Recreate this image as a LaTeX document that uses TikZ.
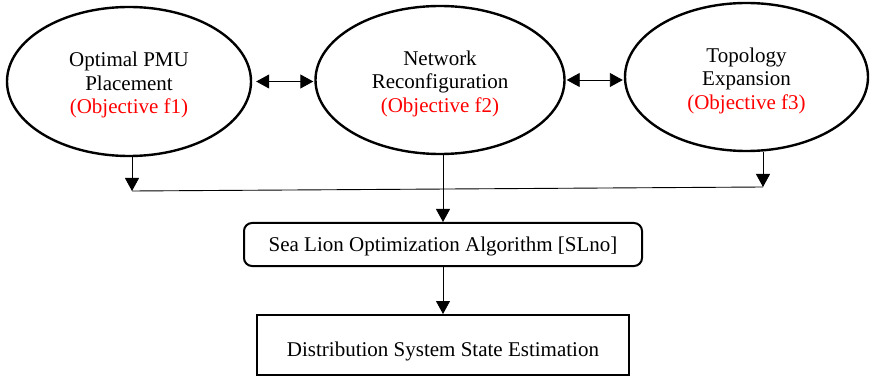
\documentclass[tikz,border=0pt]{standalone}
\usepackage{fontspec}
\setmainfont{Liberation Serif}
\usetikzlibrary{shapes.geometric,arrows.meta}
\newcommand{\lowered}[2]{\raisebox{-#1}[\height][\depth]{#2}}
\newcommand{\elltext}[1]{\lowered{4pt}{\begin{tabular}{@{}c@{}}#1\end{tabular}}}
\begin{document}
\begin{tikzpicture}[x=1pt,y=-1pt,
  txt/.style={font=\fontsize{21}{23.5}\selectfont},
  ell/.style={draw, line width=2.4pt, ellipse, inner sep=0pt, txt},
  conn/.style={line width=0.9pt, -{Triangle[length=13pt,width=14pt]}},
  dbl/.style={line width=0.9pt, {Triangle[length=13pt,width=14pt]}-{Triangle[length=13pt,width=14pt]}},
  rbox/.style={draw, line width=2pt, rounded corners=8pt, inner sep=0pt, txt},
  sbox/.style={draw, line width=2pt, inner sep=0pt, txt}]
\useasboundingbox (0,0) rectangle (870,382);
\node[ell, minimum width=244pt, minimum height=149pt] (e1) at (129,81.5)
  {\elltext{Optimal PMU\\Placement\\\textcolor{red}{(Objective f1)}}};
\node[ell, minimum width=249pt, minimum height=148pt] (e2) at (440,80)
  {\elltext{Network\\Reconfiguration\\\textcolor{red}{(Objective f2)}}};
\node[ell, minimum width=243pt, minimum height=148pt] (e3) at (746.5,77)
  {\elltext{Topology\\Expansion\\\textcolor{red}{(Objective f3)}}};
\node[rbox, minimum width=398pt, minimum height=43pt] (slno) at (443,244.5)
  {\lowered{2pt}{Sea Lion Optimization Algorithm [SLno]}};
\node[sbox, minimum width=372pt, minimum height=60pt] (dsse) at (443,345)
  {\lowered{6pt}{Distribution System State Estimation}};
\coordinate (j1) at (132,191);
\coordinate (j3) at (763,187);
\draw[dbl] ([xshift=4pt]e1.east) -- ([xshift=-1pt]e1.east -| e2.west);
\draw[dbl] ([xshift=1pt]e2.east) -- ([xshift=-1pt]e2.east -| e3.west);
\draw[conn] (j1 |- e1.south) -- (j1);
\draw[conn] (j3 |- e3.south) -- (j3);
\draw[line width=0.9pt] (j1) -- (j3);
\draw[conn] (slno.north |- e2.south) -- (slno.north);
\draw[conn] (slno.south) -- (dsse.north);
\end{tikzpicture}
\end{document}
